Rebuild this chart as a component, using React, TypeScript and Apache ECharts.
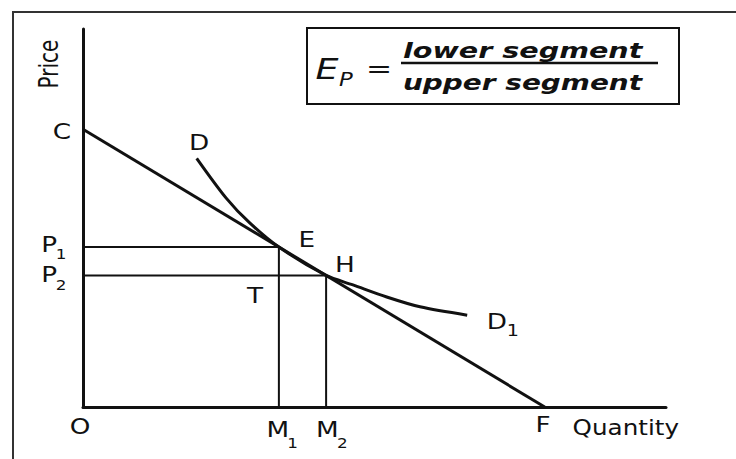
import React, { useEffect, useRef } from "react";
import * as echarts from "echarts";

// Scale of the diagram (abstract units)
const X_MAX = 100;
const Y_MAX = 100;

// Linear demand line C–F
const pointC = [0, 73.5];
const pointF = [79.2, 0];

// Points where curve DD1 meets CF
const pointE = [33.6, 42.3];
const pointH = [41.7, 34.8];

// Demand curve D–D1
const curveX = [19.5, 24.6, 28.6, 33.6, 41.7, 46.3, 52.1, 57.8, 65.9];
const curveY = [65.8, 55.2, 48.7, 42.3, 34.8, 32.3, 29.1, 26.5, 24.3];

// Point labels (anchor in data units)
const labelText = ["C", "D", "E", "H", "T", "D", "P", "P", "O", "M", "M", "F", "Quantity"];
const labelSub = ["", "", "", "", "", "1", "1", "2", "", "1", "2", "", ""];
const labelX = [-3.6, 19.9, 38.4, 44.9, 29.5, 71.0, -5.8, -5.8, -0.5, 33.4, 41.9, 78.9, 93.1];
const labelY = [72.75, 69.8, 44.2, 37.6, 29.4, 22.5, 42.9, 34.9, -5.3, -6.1, -6.1, -4.8, -5.3];

const axisTitleY = "Price";
const formulaLeft = "E";
const formulaSub = "P";
const formulaNum = "lower segment";
const formulaDen = "upper segment";

export default function App() {
  const ref = useRef<HTMLDivElement>(null);

  useEffect(() => {
    if (!ref.current) return;
    const chart = echarts.init(ref.current, null, { renderer: "svg" });
    const ink = "#111";
    const axisCommon = {
      type: "value",
      min: 0,
      axisLine: { show: true, onZero: false, lineStyle: { color: ink, width: 3 } },
      axisTick: { show: false },
      axisLabel: { show: false },
      splitLine: { show: false },
    };
    chart.setOption({
      animation: false,
      grid: { left: 83, top: 29, width: 583, height: 378 },
      xAxis: { ...axisCommon, max: X_MAX },
      yAxis: { ...axisCommon, max: Y_MAX },
      series: [
        {
          type: "line",
          data: [pointC, pointF],
          symbol: "none",
          lineStyle: { color: ink, width: 3 },
        },
        {
          type: "line",
          data: curveX.map((x, i) => [x, curveY[i]]),
          symbol: "none",
          smooth: 0.3,
          lineStyle: { color: ink, width: 3 },
        },
        {
          type: "line",
          data: [[0, pointE[1]], pointE, [pointE[0], 0]],
          symbol: "none",
          lineStyle: { color: ink, width: 2 },
        },
        {
          type: "line",
          data: [[0, pointH[1]], pointH, [pointH[0], 0]],
          symbol: "none",
          lineStyle: { color: ink, width: 2 },
        },
      ],
    });

    const toPx = (p: number[]) => chart.convertToPixel({ gridIndex: 0 }, p) as number[];
    const labelFont = "DejaVu Sans";
    const elements: any[] = [];

    // outer frame (top and left edges)
    elements.push({
      type: "polyline",
      shape: { points: [[13, 459], [13, 12], [736, 12]] },
      style: { stroke: "#333", lineWidth: 2, fill: null },
    });

    labelText.forEach((t, i) => {
      const [px, py] = toPx([labelX[i], labelY[i]]);
      const isWord = t.length > 1;
      elements.push({
        type: "text",
        x: px,
        y: py,
        scaleX: isWord ? 1.12 : 1.25,
        style: {
          text: t,
          fill: ink,
          font: `${isWord ? 22 : 21}px "${labelFont}"`,
          align: "center",
          verticalAlign: "middle",
        },
      });
      if (labelSub[i]) {
        const off = t === "M" ? [15, 13] : t === "D" ? [16, 9] : [12, 10];
        elements.push({
          type: "text",
          x: px + off[0],
          y: py + off[1],
          scaleX: 1.2,
          style: {
            text: labelSub[i],
            fill: ink,
            font: `${t === "D" ? 16 : 14}px "${labelFont}"`,
            align: "center",
            verticalAlign: "middle",
          },
        });
      }
    });

    // Price axis title (vertical)
    elements.push({
      type: "text",
      x: 49,
      y: 64,
      rotation: Math.PI / 2,
      scaleY: 1.35,
      style: {
        text: axisTitleY,
        fill: ink,
        font: `20px "${labelFont}"`,
        align: "center",
        verticalAlign: "middle",
      },
    });

    // formula box
    elements.push({
      type: "rect",
      shape: { x: 307, y: 28, width: 372, height: 76 },
      style: { stroke: ink, lineWidth: 2, fill: null },
    });
    elements.push({
      type: "text",
      x: 327,
      y: 70,
      scaleX: 1.3,
      style: {
        text: formulaLeft,
        fill: ink,
        font: `italic 28px "${labelFont}"`,
        align: "center",
        verticalAlign: "middle",
      },
    });
    elements.push({
      type: "text",
      x: 346,
      y: 80,
      scaleX: 1.2,
      style: {
        text: formulaSub,
        fill: ink,
        font: `italic 19px "${labelFont}"`,
        align: "center",
        verticalAlign: "middle",
      },
    });
    elements.push({
      type: "text",
      x: 379,
      y: 69,
      scaleX: 1.3,
      style: {
        text: "=",
        fill: ink,
        font: `24px "${labelFont}"`,
        align: "center",
        verticalAlign: "middle",
      },
    });
    elements.push({
      type: "text",
      x: 403,
      y: 50,
      scaleX: 1.3,
      style: {
        text: formulaNum,
        fill: ink,
        font: `italic bold 22px "${labelFont}"`,
        align: "left",
        verticalAlign: "middle",
      },
    });
    elements.push({
      type: "line",
      shape: { x1: 401, y1: 63, x2: 658, y2: 63 },
      style: { stroke: ink, lineWidth: 2.5 },
    });
    elements.push({
      type: "text",
      x: 403,
      y: 83,
      scaleX: 1.27,
      style: {
        text: formulaDen,
        fill: ink,
        font: `italic bold 22px "${labelFont}"`,
        align: "left",
        verticalAlign: "middle",
      },
    });

    chart.setOption({ graphic: { elements } });
    return () => chart.dispose();
  }, []);

  return (
    <div
      ref={ref}
      style={{ position: "fixed", left: 0, top: 0, width: 736, height: 459, background: "#fff" }}
    />
  );
}
